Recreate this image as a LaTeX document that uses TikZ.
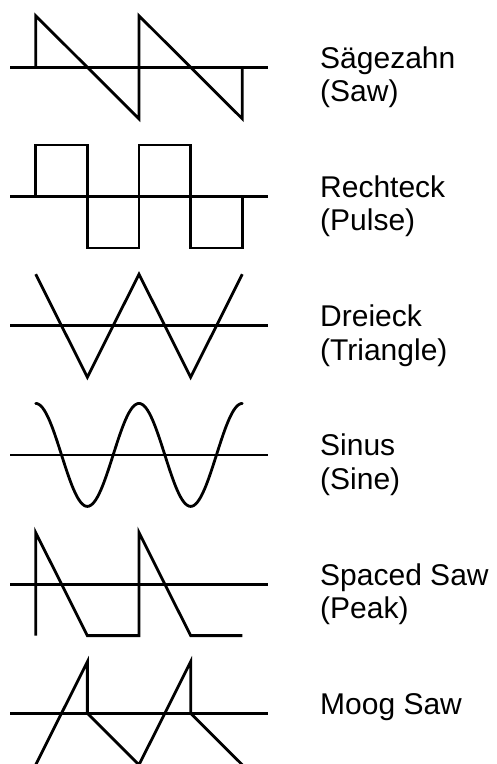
\documentclass[tikz,border=0pt]{standalone}
\usepackage{fontspec}
\setmainfont{Liberation Sans}
\begin{document}
\begin{tikzpicture}[x=1pt, y=-1pt,
  wave/.style={line width=2.8pt, line join=miter},
  axisline/.style={line width=2.8pt},
  lbl/.style={anchor=base west, inner sep=0pt, font=\fontsize{30}{33}\selectfont}]
\useasboundingbox (0,0) rectangle (496,764);
% x positions of the half-periods, amplitude and line spacing of labels
\def\xa{35.7}\def\xb{87.35}\def\xc{139}\def\xd{190.65}\def\xe{242.3}
\def\A{51.5}\def\per{103.3}\def\lx{320}\def\ls{33.4}

% Saw
\begin{scope}[shift={(0,67.3)}]
  \draw[axisline] (10,0) -- (268,0);
  \draw[wave] (\xa,0) -- (\xa,-\A) -- (\xc,\A) -- (\xc,-\A) -- (\xe,\A) -- (\xe,0);
  \node[lbl] (saw1) at (\lx,1) {Sägezahn};
  \node[lbl] (saw2) at (\lx,1+\ls) {(Saw)};
\end{scope}

% Pulse
\begin{scope}[shift={(0,196.5)}]
  \draw[axisline] (10,0) -- (268,0);
  \draw[wave] (\xa,0) -- (\xa,-\A) -- (\xb,-\A) -- (\xb,\A) -- (\xc,\A) -- (\xc,-\A)
     -- (\xd,-\A) -- (\xd,\A) -- (\xe,\A) -- (\xe,0);
  \node[lbl] (pulse1) at (\lx,1) {Rechteck};
  \node[lbl] (pulse2) at (\lx,1+\ls) {(Pulse)};
\end{scope}

% Triangle
\begin{scope}[shift={(0,325.7)}]
  \draw[axisline] (10,0) -- (268,0);
  \draw[wave] (\xa,-\A) -- (\xb,\A) -- (\xc,-\A) -- (\xd,\A) -- (\xe,-\A);
  \node[lbl] (tri1) at (\lx,1) {Dreieck};
  \node[lbl] (tri2) at (\lx,1+\ls) {(Triangle)};
\end{scope}

% Sine (two periods, starting at a crest)
\begin{scope}[shift={(0,454.9)}]
  \draw[axisline] (10,0) -- (268,0);
  \draw[wave, line cap=round] plot[domain=0:2, samples=121, smooth]
     ({\xa+\x*\per}, {-\A*cos(\x*180*2)});
  \node[lbl] (sine1) at (\lx,1) {Sinus};
  \node[lbl] (sine2) at (\lx,1+\ls) {(Sine)};
\end{scope}

% Spaced saw
\begin{scope}[shift={(0,584.1)}]
  \draw[axisline] (10,0) -- (268,0);
  \draw[wave] (\xa,\A) -- (\xa,-\A) -- (\xb,\A) -- (\xc,\A) -- (\xc,-\A) -- (\xd,\A) -- (\xe,\A);
  \node[lbl] (peak1) at (\lx,1) {Spaced Saw};
  \node[lbl] (peak2) at (\lx,1+\ls) {(Peak)};
\end{scope}

% Moog saw
\begin{scope}[shift={(0,713.3)}]
  \draw[axisline] (10,0) -- (268,0);
  \draw[wave] (\xa,\A) -- (\xb,-\A) -- (\xb,0) -- (\xc,\A) -- (\xd,-\A) -- (\xd,0) -- (\xe,\A);
  \node[lbl] (moog1) at (\lx,1.5) {Moog Saw};
\end{scope}
\end{tikzpicture}
\end{document}
